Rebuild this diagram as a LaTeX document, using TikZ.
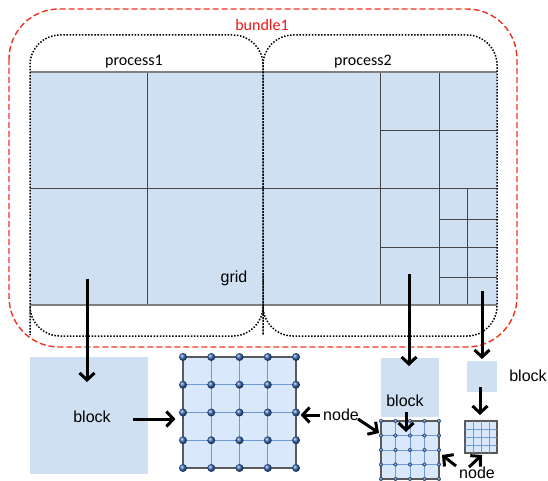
\documentclass[tikz,border=0pt]{standalone}
\usepackage{fontspec}
\setmainfont{Liberation Sans}
\newfontfamily\calibrifont{Carlito}
\usetikzlibrary{arrows.meta}

\tikzset{
  labeltext/.style={inner sep=0pt,font=\fontsize{16}{19}\selectfont},
  proctext/.style={inner sep=0pt,font=\calibrifont\fontsize{16}{19}\selectfont},
  cellline/.style={draw={rgb, 255:red, 70; green, 70; blue, 70 },line width=0.9pt},
  blockbox/.style={fill={rgb, 255:red, 207; green, 224; blue, 242 },inner sep=0pt},
  meshbox/.style={fill={rgb, 255:red, 218; green, 232; blue, 252 },draw={rgb, 255:red, 90; green, 90; blue, 90 },line width=1.1pt,inner sep=0pt},
  meshline/.style={draw={rgb, 255:red, 110; green, 155; blue, 215 },line width=1pt},
  meshdot/.style={ball color={rgb, 255:red, 50; green, 100; blue, 175 }},
  bigarrow/.style={line width=3pt,-{Straight Barb[length=7pt,width=15pt]}},
  procline/.style={line width=1.5pt,dash pattern=on 1.5pt off 1.6pt,rounded corners=30pt},
}

\begin{document}
\begin{tikzpicture}[x=1pt,y=1pt,yscale=-1,xscale=1]
\useasboundingbox (0,0) rectangle (548,481);

%Grid cells
\fill [fill={rgb, 255:red, 207; green, 224; blue, 242 }] (30,72) rectangle (497,305) ;
\draw [cellline] (147,72) -- (147,305) ;
\draw [cellline] (30,188) -- (497,188) ;
\draw [cellline] (380,72) -- (380,305) ;
\draw [cellline] (439,72) -- (439,305) ;
\draw [cellline] (380,130) -- (497,130) ;
\draw [cellline] (380,247) -- (497,247) ;
\draw [cellline] (467,188) -- (467,305) ;
\draw [cellline] (439,219) -- (497,219) ;
\draw [cellline] (439,277) -- (497,277) ;
\draw [draw={rgb, 255:red, 128; green, 128; blue, 128 },line width=1.5pt] (30,72) -- (497,72) (30,305) -- (497,305) ;

%Process outlines
\draw [procline] (30,305) -- (30,35) -- (263,35) -- (263,336) -- (30,336) -- cycle ;
\draw [procline] (263,305) -- (263,35) -- (497,35) -- (497,336) -- (263,336) -- cycle ;
%Bundle outline
\draw [draw={rgb, 255:red, 240; green, 50; blue, 30 },line width=1.4pt,dash pattern=on 6pt off 3pt,rounded corners=50pt] (9,9) rectangle (517,347) ;

% Text Node
\node [proctext,text={rgb, 255:red, 240; green, 20; blue, 20 }] (bundle) at (262,25) {bundle1};
\node [proctext] (proc1) at (134,62) {process1};
\node [proctext] (proc2) at (363,62) {process2};
\node [labeltext] (gridlbl) at (234,278) {grid};

%Blocks
\node [blockbox,minimum width=118,minimum height=117] (blk1) at (89,415.5) {};
\node [blockbox,minimum width=58,minimum height=59] (blk2) at (410,387.5) {};
\node [blockbox,minimum width=30,minimum height=31] (blk3) at (482,376.5) {};
\node [labeltext] (blklbl1) at (92,417) {block};
\node [labeltext] (blklbl2) at (405,401) {block};
\node [labeltext] (blklbl3) at (528,376) {block};

%Meshes
\node [meshbox,minimum width=113,minimum height=111] (mesh1) at (239.5,412.5) {};
\foreach \i in {1,2,3} {
  \draw [meshline] ({183+\i*28.25},357) -- ({183+\i*28.25},468) ;
  \draw [meshline] (183,{357+\i*27.75}) -- (296,{357+\i*27.75}) ;
}
\draw [draw={rgb, 255:red, 90; green, 90; blue, 90 },line width=1.1pt] (mesh1.north west) rectangle (mesh1.south east) ;
\foreach \i in {0,...,4}
  \foreach \j in {0,...,4}
    \shade [meshdot] ({183+\i*28.25},{357+\j*27.75}) circle (4) ;

\node [meshbox,minimum width=58,minimum height=58] (mesh2) at (410,450) {};
\foreach \i in {1,2,3} {
  \draw [meshline,line width=0.9pt] ({381+\i*14.5},421) -- ({381+\i*14.5},479) ;
  \draw [meshline,line width=0.9pt] (381,{421+\i*14.5}) -- (439,{421+\i*14.5}) ;
}
\draw [draw={rgb, 255:red, 90; green, 90; blue, 90 },line width=1.1pt] (mesh2.north west) rectangle (mesh2.south east) ;
\foreach \i in {0,...,4}
  \foreach \j in {0,...,4}
    \shade [meshdot] ({381+\i*14.5},{421+\j*14.5}) circle (2) ;

\node [meshbox,minimum width=32,minimum height=32] (mesh3) at (481,437) {};
\foreach \i in {1,2,3} {
  \draw [meshline,line width=0.7pt] ({465+\i*8},421) -- ({465+\i*8},453) ;
  \draw [meshline,line width=0.7pt] (465,{421+\i*8}) -- (497,{421+\i*8}) ;
}
\draw [draw={rgb, 255:red, 90; green, 90; blue, 90 },line width=1.1pt] (mesh3.north west) rectangle (mesh3.south east) ;

\node [labeltext] (nodelbl1) at (341,415) {node};
\node [labeltext] (nodelbl2) at (477,473) {node};

%Arrows
\coordinate (a1s) at (87,279);
\coordinate (a1e) at (87,382);
\coordinate (a2s) at (409,274);
\coordinate (a2e) at (409,366);
\coordinate (a3s) at (482,291);
\coordinate (a3e) at (482,359);
\coordinate (a4s) at (133,419);
\coordinate (a5s) at (406,412);
\coordinate (a5e) at (406,432);
\coordinate (a6s) at (480,387);
\coordinate (a6e) at (480,415);
\coordinate (a8s) at (358,419);
\coordinate (a8e) at (379,433);
\coordinate (a9s) at (456,466);
\coordinate (a9e) at (442,455);
\coordinate (a10s) at (469,467);
\coordinate (a10e) at (482,455);
\draw [bigarrow] (a1s) -- (a1e) ;
\draw [bigarrow] (a2s) -- (a2e) ;
\draw [bigarrow] (a3s) -- (a3e) ;
\draw [bigarrow,shorten >=7pt] (a4s) -- (a4s -| mesh1.west) ;
\draw [bigarrow] (a5s) -- (a5e) ;
\draw [bigarrow] (a6s) -- (a6e) ;
\draw [bigarrow,shorten <=3pt,shorten >=4pt] (nodelbl1.west) -- (nodelbl1.west -| mesh1.east) ;
\draw [bigarrow] (a8s) -- (a8e) ;
\draw [bigarrow] (a9s) -- (a9e) ;
\draw [bigarrow] (a10s) -- (a10e) ;

\end{tikzpicture}
\end{document}
